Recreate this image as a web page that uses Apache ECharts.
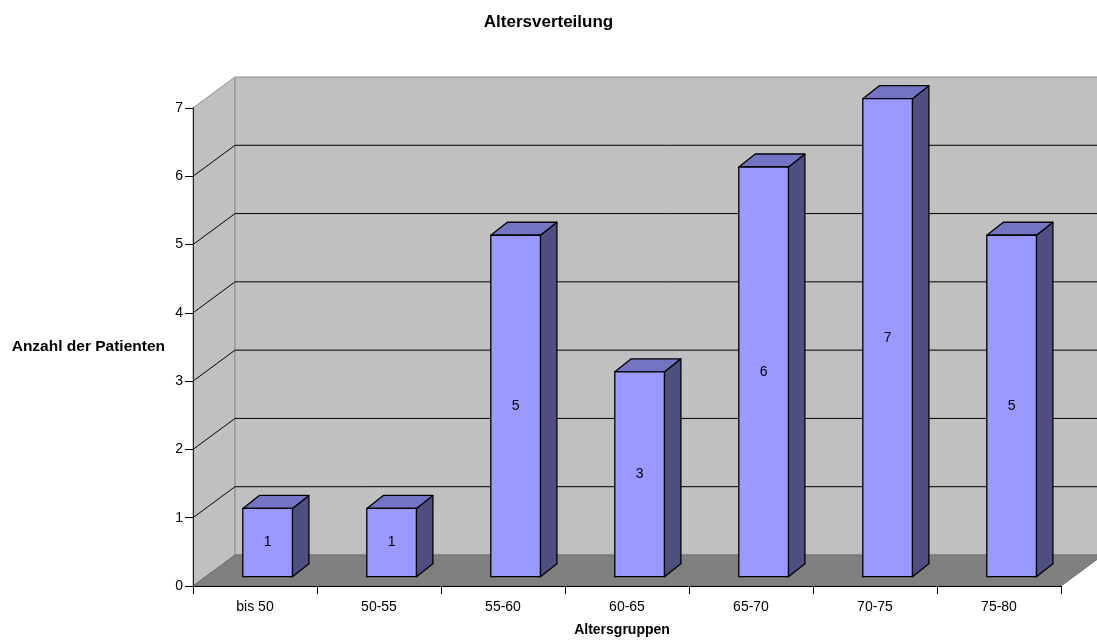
<!DOCTYPE html>
<html>
<head>
<meta charset="utf-8">
<script src="https://cdn.jsdelivr.net/npm/echarts@6/dist/echarts.min.js"></script>
<style>
  html, body { margin: 0; padding: 0; background: #fff; }
  #chart { width: 1097px; height: 642px; }
</style>
</head>
<body>
<div id="chart"></div>
<script>
// Age groups and number of patients per group
const categories = ['bis 50', '50-55', '55-60', '60-65', '65-70', '70-75', '75-80'];
const patients = [1, 1, 5, 3, 6, 7, 5];
const yTicks = [0, 1, 2, 3, 4, 5, 6, 7];

// Pseudo-3D geometry (pixels / fractions)
const WALL_DEPTH = [42, -31];     // offset from the front plane to the back wall
const BAR_SHIFT = [12.6, -9.3];   // front face of the bars sits behind the front plane
const BAR_DEPTH = [16.5, -13];    // depth of each bar
const BAR_WIDTH = 0.4;            // share of the category band

const FONT = '"Liberation Sans", Arial, Helvetica, sans-serif';

function wallsRenderItem(params, api) {
  const band = api.size([1, 0])[0];
  const x0 = api.coord([0, 0])[0] - band / 2;
  const x1 = x0 + band * categories.length;
  const yMin = api.coord([0, yTicks[0]])[1];
  const yMax = api.coord([0, yTicks[yTicks.length - 1]])[1];
  const dx = WALL_DEPTH[0], dy = WALL_DEPTH[1];
  const children = [];
  // left side wall
  children.push({
    type: 'polygon',
    shape: { points: [[x0, yMax], [x0 + dx, yMax + dy], [x0 + dx, yMin + dy], [x0, yMin]] },
    style: { fill: '#c0c0c0', stroke: '#8c8c8c', lineWidth: 1 }
  });
  // back wall
  children.push({
    type: 'rect',
    shape: { x: x0 + dx, y: yMax + dy, width: x1 - x0, height: yMin - yMax },
    style: { fill: '#c0c0c0', stroke: '#8c8c8c', lineWidth: 1 }
  });
  // floor
  children.push({
    type: 'polygon',
    shape: { points: [[x0, yMin], [x0 + dx, yMin + dy], [x1 + dx, yMin + dy], [x1, yMin]] },
    style: { fill: '#808080', stroke: '#6e6e6e', lineWidth: 1 }
  });
  // gridlines along side and back wall
  yTicks.slice(1, -1).forEach(function (v) {
    const y = api.coord([0, v])[1];
    children.push({
      type: 'polyline',
      shape: { points: [[x0, y], [x0 + dx, y + dy], [x1 + dx, y + dy]] },
      style: { stroke: '#000', lineWidth: 1, fill: null }
    });
  });
  return { type: 'group', children: children };
}

function barRenderItem(params, api) {
  const idx = api.value(0);
  const val = api.value(1);
  const band = api.size([1, 0])[0];
  const base = api.coord([idx, 0]);
  const top = api.coord([idx, val]);
  const w = band * BAR_WIDTH;
  const xl = base[0] - w / 2 + BAR_SHIFT[0];
  const xr = xl + w;
  const yb = base[1] + BAR_SHIFT[1];
  const yt = top[1] + BAR_SHIFT[1];
  const dx = BAR_DEPTH[0], dy = BAR_DEPTH[1];
  const edge = { stroke: '#000', lineWidth: 1.3, lineJoin: 'round' };
  return {
    type: 'group',
    children: [
      {
        type: 'polygon',
        shape: { points: [[xr, yb], [xr + dx, yb + dy], [xr + dx, yt + dy], [xr, yt]] },
        style: Object.assign({ fill: '#4e4e80' }, edge)
      },
      {
        type: 'polygon',
        shape: { points: [[xl, yt], [xl + dx, yt + dy], [xr + dx, yt + dy], [xr, yt]] },
        style: Object.assign({ fill: '#7474c4' }, edge)
      },
      {
        type: 'rect',
        shape: { x: xl, y: yt, width: w, height: yb - yt },
        style: Object.assign({ fill: '#9999ff' }, edge)
      },
      {
        type: 'text',
        style: {
          text: String(val),
          x: (xl + xr) / 2,
          y: (yt + yb) / 2,
          align: 'center',
          verticalAlign: 'middle',
          textAlign: 'center',
          textVerticalAlign: 'middle',
          font: '14px ' + FONT,
          fill: '#000'
        }
      }
    ]
  };
}

const chart = echarts.init(document.getElementById('chart'), null, { renderer: 'canvas' });

chart.setOption({
  animation: false,
  backgroundColor: '#fff',
  title: {
    text: 'Altersverteilung',
    left: 'center',
    top: 9,
    textStyle: { fontFamily: FONT, fontWeight: 'bold', fontSize: 17, color: '#000' }
  },
  grid: { left: 193, right: 36, top: 108, bottom: 56 },
  xAxis: {
    type: 'category',
    data: categories,
    z: 5,
    name: 'Altersgruppen',
    nameLocation: 'middle',
    nameGap: 37,
    nameTextStyle: { fontFamily: FONT, fontWeight: 'bold', fontSize: 14, color: '#000', padding: [0, 10, 0, 0] },
    axisLine: { show: true, lineStyle: { color: '#000', width: 1 } },
    axisTick: { show: true, length: 8, alignWithLabel: false, lineStyle: { color: '#000' } },
    axisLabel: { fontFamily: FONT, fontSize: 14, color: '#000', margin: 14 },
    splitLine: { show: false }
  },
  yAxis: {
    type: 'value',
    min: yTicks[0],
    max: yTicks[yTicks.length - 1],
    interval: 1,
    z: 5,
    name: 'Anzahl der Patienten',
    nameLocation: 'middle',
    nameRotate: 0,
    nameGap: 28,
    nameTextStyle: { fontFamily: FONT, fontWeight: 'bold', fontSize: 15.5, color: '#000' },
    axisLine: { show: true, lineStyle: { color: '#222', width: 1 } },
    axisTick: { show: true, length: 8, lineStyle: { color: '#000' } },
    axisLabel: { fontFamily: FONT, fontSize: 14, color: '#000', margin: 10 },
    splitLine: { show: false }
  },
  series: [
    {
      type: 'custom',
      name: 'walls',
      silent: true,
      clip: false,
      z: 1,
      renderItem: wallsRenderItem,
      data: [[0, 0]],
      encode: { x: 0, y: 1 }
    },
    {
      type: 'custom',
      name: 'Anzahl der Patienten',
      clip: false,
      z: 2,
      renderItem: barRenderItem,
      data: patients.map(function (v, i) { return [i, v]; }),
      encode: { x: 0, y: 1 }
    }
  ]
});
</script>
</body>
</html>
